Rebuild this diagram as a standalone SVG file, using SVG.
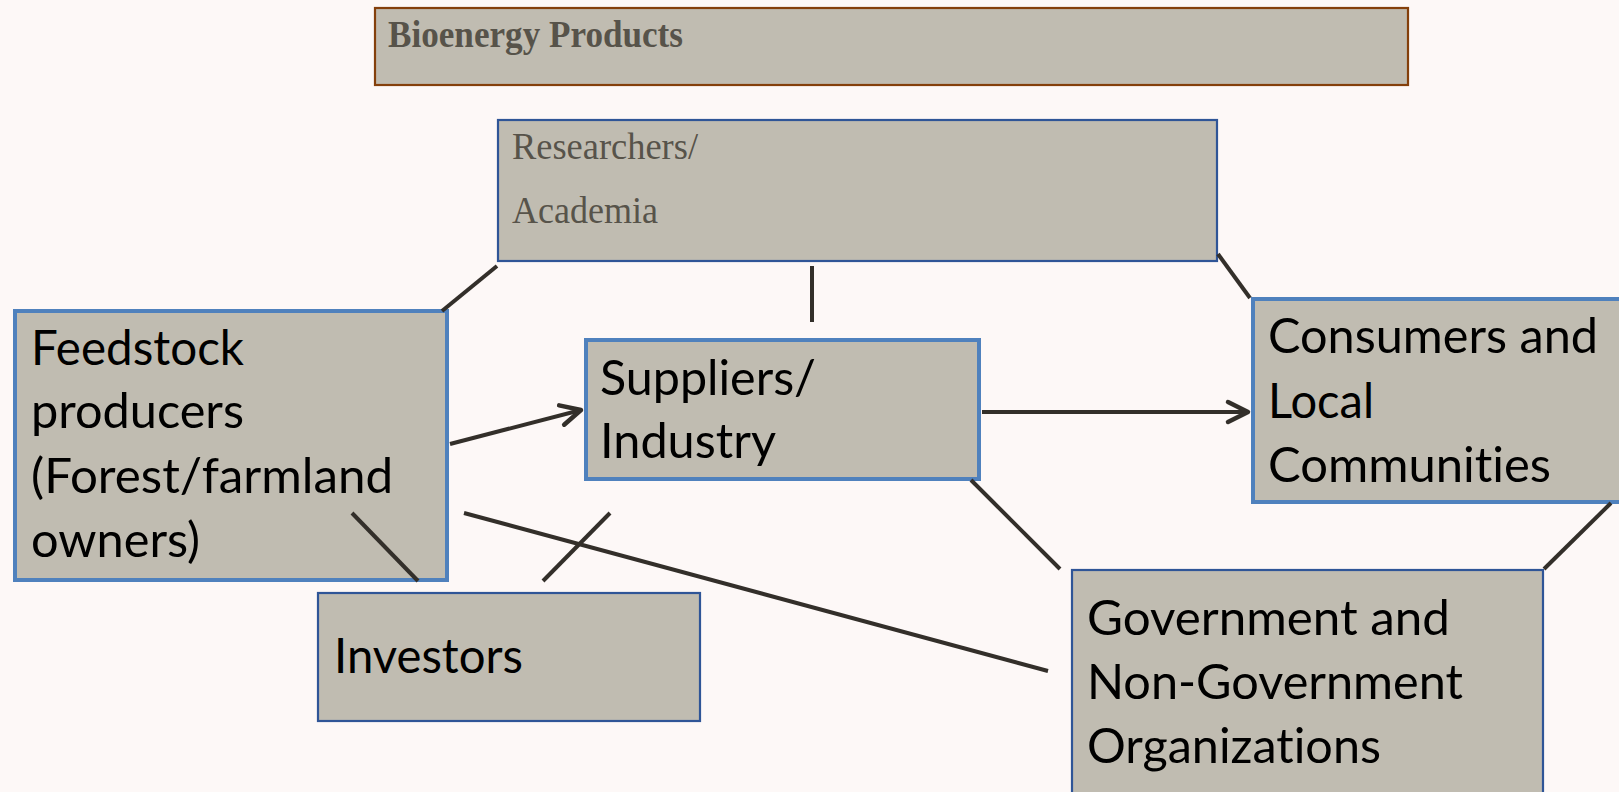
<svg xmlns="http://www.w3.org/2000/svg" width="1619" height="792" viewBox="0 0 1619 792">
  <style>
    .box { fill: #C0BCB1; }
    .thick { stroke: #4F81BD; stroke-width: 4; }
    .thin { stroke: #2F5597; stroke-width: 2.2; }
    .brown { stroke: #843F0B; stroke-width: 2.2; }
    .lbl { font-family: Lato, "Open Sans", "Liberation Sans", sans-serif; font-size: 48px; fill: #000; font-variant-ligatures: none; font-feature-settings: "liga" 0, "clig" 0; }
    .serif { font-family: "Liberation Serif", "DejaVu Serif", serif; font-size: 37px; fill: #57534A; }
    .conn { stroke: #332F2A; stroke-width: 4; fill: none; }
  </style>
  <defs>
    <marker id="arrow" markerUnits="userSpaceOnUse" viewBox="-26 -14 30 28" markerWidth="30" markerHeight="28" refX="0" refY="0" orient="auto">
      <path d="M-20,-10 L0,0 L-20,10" fill="none" stroke="#332F2A" stroke-width="4.5" stroke-linecap="round" stroke-linejoin="round"/>
    </marker>
  </defs>
  <rect x="0" y="0" width="1619" height="792" fill="#FDF8F7"/>

  <g id="bioenergy-products">
    <rect class="box brown" x="375" y="8" width="1033" height="77"/>
    <text class="serif" x="388" y="47" font-weight="bold" textLength="295" lengthAdjust="spacingAndGlyphs">Bioenergy Products</text>
  </g>

  <g id="researchers">
    <rect class="box thin" x="498" y="120" width="719" height="141"/>
    <text class="serif" x="512" y="159" textLength="186" lengthAdjust="spacingAndGlyphs">Researchers/</text>
    <text class="serif" x="512" y="223" textLength="146" lengthAdjust="spacingAndGlyphs">Academia</text>
  </g>

  <g id="feedstock">
    <rect class="box thick" x="15" y="311" width="432" height="269"/>
    <text class="lbl" x="31" y="365" textLength="213" lengthAdjust="spacingAndGlyphs">Feedstock</text>
    <text class="lbl" x="31" y="428" textLength="213" lengthAdjust="spacingAndGlyphs">producers</text>
    <text class="lbl" x="31" y="493" textLength="362" lengthAdjust="spacingAndGlyphs">(Forest/farmland</text>
    <text class="lbl" x="31" y="557" textLength="169" lengthAdjust="spacingAndGlyphs">owners)</text>
  </g>

  <g id="suppliers">
    <rect class="box thick" x="586" y="340" width="393" height="139"/>
    <text class="lbl" x="600" y="395" textLength="216" lengthAdjust="spacingAndGlyphs">Suppliers/</text>
    <text class="lbl" x="600" y="458" textLength="176" lengthAdjust="spacingAndGlyphs">Industry</text>
  </g>

  <g id="consumers">
    <rect class="box thick" x="1253" y="299" width="400" height="203"/>
    <text class="lbl" x="1268" y="353" textLength="330" lengthAdjust="spacingAndGlyphs">Consumers and</text>
    <text class="lbl" x="1268" y="418" textLength="106" lengthAdjust="spacingAndGlyphs">Local</text>
    <text class="lbl" x="1268" y="482" textLength="283" lengthAdjust="spacingAndGlyphs">Communities</text>
  </g>

  <g id="investors">
    <rect class="box thin" x="318" y="593" width="382" height="128"/>
    <text class="lbl" x="334" y="673" textLength="189" lengthAdjust="spacingAndGlyphs">Investors</text>
  </g>

  <g id="government">
    <rect class="box thin" x="1072" y="570" width="471" height="240"/>
    <text class="lbl" x="1087" y="635" textLength="363" lengthAdjust="spacingAndGlyphs">Government and</text>
    <text class="lbl" x="1087" y="699" textLength="376" lengthAdjust="spacingAndGlyphs">Non-Government</text>
    <text class="lbl" x="1087" y="763" textLength="294" lengthAdjust="spacingAndGlyphs">Organizations</text>
  </g>

  <g id="connectors">
    <line class="conn" x1="497" y1="266" x2="442" y2="311"/>
    <line class="conn" x1="812" y1="266" x2="812" y2="322"/>
    <line class="conn" x1="1218" y1="254" x2="1250" y2="298"/>
    <line class="conn" x1="450" y1="444" x2="581" y2="410" marker-end="url(#arrow)"/>
    <line class="conn" x1="982" y1="412" x2="1248" y2="412" marker-end="url(#arrow)"/>
    <line class="conn" x1="352" y1="513" x2="418" y2="581"/>
    <line class="conn" x1="543" y1="581" x2="610" y2="513"/>
    <line class="conn" x1="464" y1="513" x2="1048" y2="671"/>
    <line class="conn" x1="971" y1="480" x2="1060" y2="569"/>
    <line class="conn" x1="1611" y1="503" x2="1544" y2="569"/>
  </g>
</svg>
